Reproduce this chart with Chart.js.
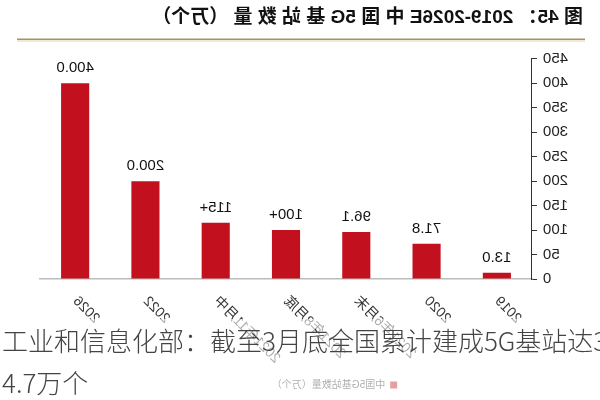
<!DOCTYPE html>
<html>
<head>
<meta charset="utf-8">
<script src="https://cdn.jsdelivr.net/npm/chart.js@4.4.1/dist/chart.umd.min.js"></script>
<style>
  body { margin: 0; background: #fff; overflow: hidden; }
  #wrap { position: relative; width: 600px; height: 400px; }
  #chart { transform: scaleX(-1); }
  #caption {
    position: absolute; left: 2px; top: 319px; width: 598px; height: 81px;
    background: rgba(255,255,255,0.6);
    font-family: "Noto Sans CJK SC", sans-serif; font-weight: 300;
    font-size: 26px; line-height: 42px; color: #444;
    white-space: nowrap; overflow: hidden;
  }
</style>
</head>
<body>
<div id="wrap">
  <canvas id="chart" width="600" height="400"></canvas>
  <div id="caption">工业和信息化部：截至3月底全国累计建成5G基站达3<br>4.7万个</div>
</div>
<script>
const categories = ['2019', '2020', '2021年6月末', '2021年8月底', '2021年11月中', '2022', '2026'];
const stations = [13.0, 71.8, 96.1, 100, 115, 200, 400];
const valueLabels = ['13.0', '71.8', '96.1', '100+', '115+', '200.0', '400.0'];
const yTicks = { max: 450, step: 50 };

const fontFam = '"Liberation Sans", "Noto Sans CJK SC", sans-serif';

// numbers above the bars
const barValues = {
  id: 'barValues',
  afterDatasetsDraw(chart) {
    const ctx = chart.ctx;
    ctx.save();
    ctx.font = '15px ' + fontFam;
    ctx.fillStyle = '#111';
    ctx.textAlign = 'center';
    ctx.textBaseline = 'alphabetic';
    chart.getDatasetMeta(0).data.forEach((bar, i) => {
      ctx.fillText(valueLabels[i], bar.x, bar.y - 11);
    });
    ctx.restore();
  }
};

// rule under the title, and legend nudged left
const titleRule = {
  id: 'titleRule',
  afterLayout(chart) {
    chart.legend.left -= 23;
    chart.legend.right -= 23;
  },
  afterDraw(chart) {
    const ctx = chart.ctx;
    ctx.save();
    ctx.fillStyle = '#f3ebc8';
    ctx.fillRect(15, 40, 568, 2);
    ctx.fillStyle = '#9a9478';
    ctx.fillRect(15, 38.5, 568, 1.5);
    ctx.restore();
  }
};

new Chart(document.getElementById('chart'), {
  type: 'bar',
  data: {
    labels: categories,
    datasets: [{
      label: '中国5G基站数量（万个）',
      data: stations,
      backgroundColor: '#c3101f',
      barPercentage: 0.8,
      categoryPercentage: 0.5
    }]
  },
  options: {
    responsive: false,
    animation: false,
    layout: { padding: { left: 17, right: 40, top: 0, bottom: 0 } },
    plugins: {
      title: {
        display: true,
        text: '图 45： 2019-2026E 中 国 5G 基 站 数 量 （万个）',
        align: 'start',
        color: '#111',
        font: { family: fontFam, size: 19, weight: 'bold' },
        padding: { top: 6, bottom: 30 }
      },
      legend: {
        position: 'bottom',
        labels: {
          boxWidth: 7, boxHeight: 7, padding: 10,
          color: '#333',
          font: { family: fontFam, size: 10 }
        }
      },
      tooltip: { enabled: false }
    },
    scales: {
      x: {
        grid: { display: false },
        border: { display: true, color: '#bbb', width: 1.5 },
        ticks: {
          color: '#333', minRotation: 45, maxRotation: 45, padding: 6,
          font: { family: fontFam, size: 14 }
        },
        afterFit(scale) { scale.height = 91; }
      },
      y: {
        min: 0, max: yTicks.max,
        grid: { drawOnChartArea: false, drawTicks: true, tickLength: 5, color: '#333' },
        border: { display: true, color: '#333', width: 1 },
        ticks: {
          stepSize: yTicks.step, color: '#222', padding: 6,
          font: { family: fontFam, size: 15 }
        },
        afterFit(scale) { scale.width = 51; }
      }
    }
  },
  plugins: [barValues, titleRule]
});
</script>
</body>
</html>
